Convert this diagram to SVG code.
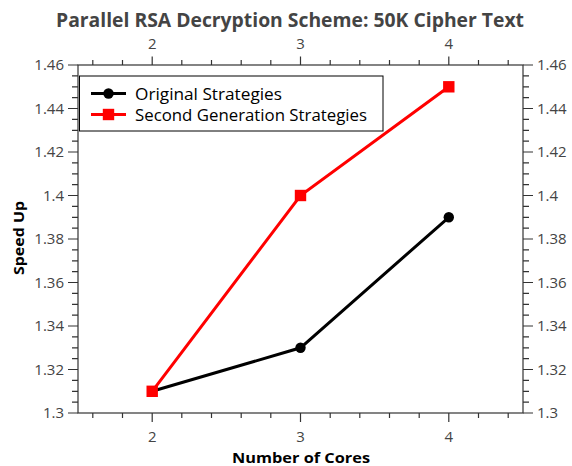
<svg xmlns="http://www.w3.org/2000/svg" width="572" height="466" viewBox="0 0 572 466">
<style>
.tick{stroke:#333;stroke-width:1.2;fill:none}
.frame{stroke:#333;stroke-width:1.2;fill:none}
.tl{font-family:"Open Sans","DejaVu Sans",sans-serif;font-size:15px;fill:#444}
.title{font-family:"Open Sans","DejaVu Sans",sans-serif;font-size:19px;font-weight:bold;fill:#444}
.axl{font-family:"Open Sans","DejaVu Sans",sans-serif;font-size:15px;font-weight:bold;fill:#000}
.leg{font-family:"Open Sans","DejaVu Sans",sans-serif;font-size:16.5px;fill:#000}
.s1{stroke:#000;stroke-width:3;fill:none}
.s2{stroke:#f00;stroke-width:3;fill:none}
</style>
<rect width="572" height="466" fill="#fff"/>
<g id="title"><text class="title" x="290" y="26.5" text-anchor="middle" textLength="468" lengthAdjust="spacingAndGlyphs">Parallel RSA Decryption Scheme: 50K Cipher Text</text></g>
<g id="axes">
<rect class="frame" x="78" y="65" width="445" height="348"/>
<path class="tick" d="M68 413H78M68 369.5H78M68 326H78M68 282.5H78M68 239H78M68 195.5H78M68 152H78M68 108.5H78M68 65H78
M72 402.1H78M72 391.3H78M72 380.4H78M72 358.6H78M72 347.8H78M72 336.9H78M72 315.1H78M72 304.3H78M72 293.4H78M72 271.6H78M72 260.8H78M72 249.9H78M72 228.1H78M72 217.3H78M72 206.4H78M72 184.6H78M72 173.8H78M72 162.9H78M72 141.1H78M72 130.3H78M72 119.4H78M72 97.6H78M72 86.8H78M72 75.9H78"/>
<path class="tick" d="M523 413H533M523 369.5H533M523 326H533M523 282.5H533M523 239H533M523 195.5H533M523 152H533M523 108.5H533M523 65H533
M523 402.1H529M523 391.3H529M523 380.4H529M523 358.6H529M523 347.8H529M523 336.9H529M523 315.1H529M523 304.3H529M523 293.4H529M523 271.6H529M523 260.8H529M523 249.9H529M523 228.1H529M523 217.3H529M523 206.4H529M523 184.6H529M523 173.8H529M523 162.9H529M523 141.1H529M523 130.3H529M523 119.4H529M523 97.6H529M523 86.8H529M523 75.9H529"/>
<path class="tick" d="M152.2 413V422M300.5 413V422M448.8 413V422
M92.8 413V418M122.5 413V418M181.8 413V418M211.5 413V418M241.2 413V418M270.8 413V418M330.2 413V418M359.8 413V418M389.5 413V418M419.2 413V418M478.5 413V418M508.2 413V418"/>
<path class="tick" d="M152.2 65V56.5M300.5 65V56.5M448.8 65V56.5
M92.8 65V60M122.5 65V60M181.8 65V60M211.5 65V60M241.2 65V60M270.8 65V60M330.2 65V60M359.8 65V60M389.5 65V60M419.2 65V60M478.5 65V60M508.2 65V60"/>
<g class="tl" text-anchor="end">
<text x="64" y="418">1.3</text><text x="64" y="374.5">1.32</text><text x="64" y="331">1.34</text><text x="64" y="287.5">1.36</text><text x="64" y="244">1.38</text><text x="64" y="200.5">1.4</text><text x="64" y="157">1.42</text><text x="64" y="113.5">1.44</text><text x="64" y="70">1.46</text>
</g>
<g class="tl" text-anchor="start">
<text x="537" y="418">1.3</text><text x="537" y="374.5">1.32</text><text x="537" y="331">1.34</text><text x="537" y="287.5">1.36</text><text x="537" y="244">1.38</text><text x="537" y="200.5">1.4</text><text x="537" y="157">1.42</text><text x="537" y="113.5">1.44</text><text x="537" y="70">1.46</text>
</g>
<g class="tl" text-anchor="middle">
<text x="152.2" y="442">2</text><text x="300.5" y="442">3</text><text x="448.8" y="442">4</text>
<text x="152.2" y="48.5">2</text><text x="300.5" y="48.5">3</text><text x="448.8" y="48.5">4</text>
</g>
<text class="axl" x="301" y="462.5" text-anchor="middle" textLength="138" lengthAdjust="spacingAndGlyphs">Number of Cores</text>
<text class="axl" transform="translate(23.5 238) rotate(-90)" text-anchor="middle" textLength="74" lengthAdjust="spacingAndGlyphs">Speed Up</text>
</g>
<g id="connectors">
<polyline class="s1" points="152.2,391.3 300.5,347.8 448.8,217.3"/>
<polyline class="s2" points="152.2,391.3 300.5,195.5 448.8,86.8"/>
</g>
<g id="series-original">
<circle cx="300.5" cy="347.8" r="5.2" fill="#000"/>
<circle cx="448.8" cy="217.3" r="5.2" fill="#000"/>
</g>
<g id="series-second">
<rect x="146.5" y="385.6" width="11.4" height="11.4" fill="#f00"/>
<rect x="294.8" y="189.8" width="11.4" height="11.4" fill="#f00"/>
<rect x="443.1" y="81.1" width="11.4" height="11.4" fill="#f00"/>
</g>
<g id="legend">
<rect x="79.5" y="76" width="303.5" height="55" fill="#fff" stroke="#000" stroke-width="1"/>
<line class="s1" x1="91" y1="93.5" x2="126" y2="93.5"/>
<circle cx="108.5" cy="93.5" r="5.2" fill="#000"/>
<line class="s2" x1="91" y1="114.5" x2="126" y2="114.5"/>
<rect x="102.8" y="108.8" width="11.4" height="11.4" fill="#f00"/>
<text class="leg" x="135" y="99.5" textLength="147" lengthAdjust="spacingAndGlyphs">Original Strategies</text>
<text class="leg" x="135" y="120.5" textLength="232" lengthAdjust="spacingAndGlyphs">Second Generation Strategies</text>
</g>
</svg>
